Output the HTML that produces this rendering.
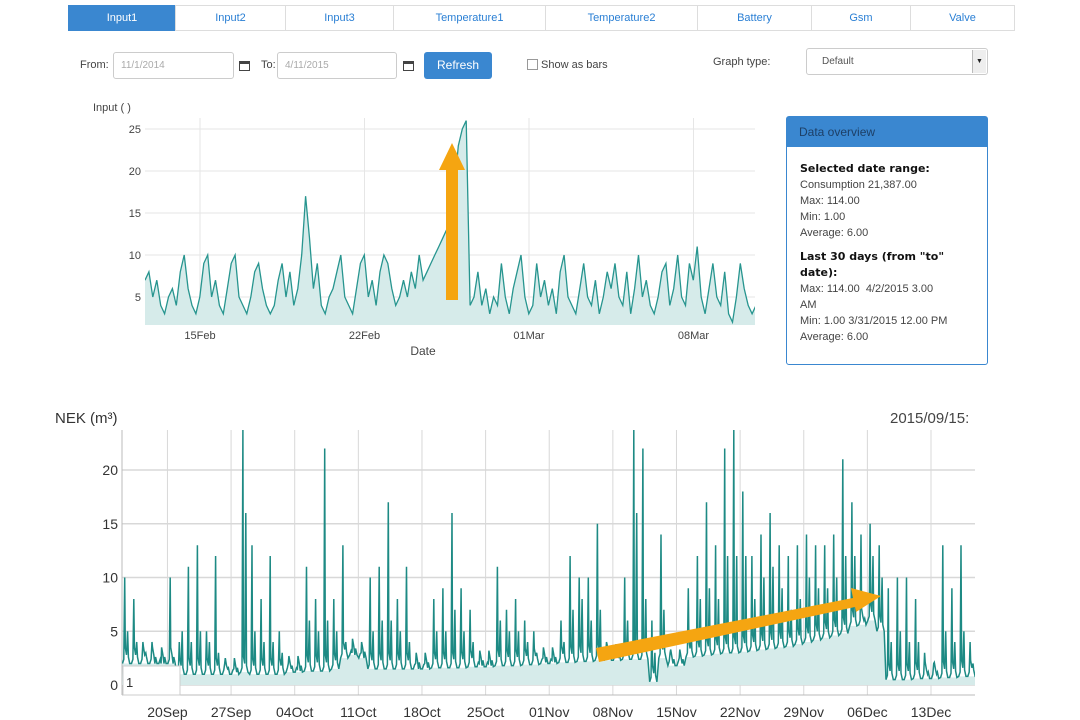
<!DOCTYPE html>
<html><head><meta charset="utf-8">
<style>
body{margin:0;width:1080px;height:720px;background:#fff;font-family:"Liberation Sans",sans-serif;overflow:hidden;position:relative}
.abs{position:absolute}
.tab{position:absolute;top:5px;height:26px;border:1px solid #ddd;box-sizing:border-box;color:#2a7fd4;font-size:11px;text-align:center;line-height:25px;background:#fff}
.inp{position:absolute;height:27px;border:1px solid #ccc;border-radius:3px;box-sizing:border-box;font-size:10px;color:#aaa;padding-left:7px;line-height:25px}
.lbl{position:absolute;font-size:11px;color:#444}
.cal{position:absolute;width:11px;height:10px;border:1px solid #444;border-top-width:3px;box-sizing:border-box}
</style></head><body>
<div class="tab" style="left:68px;width:108px;background:#3a87d0;color:#fff;border-color:#3a87d0">Input1</div>
<div class="tab" style="left:175px;width:111px">Input2</div>
<div class="tab" style="left:285px;width:109px">Input3</div>
<div class="tab" style="left:393px;width:153px">Temperature1</div>
<div class="tab" style="left:545px;width:153px">Temperature2</div>
<div class="tab" style="left:697px;width:115px">Battery</div>
<div class="tab" style="left:811px;width:100px">Gsm</div>
<div class="tab" style="left:910px;width:105px">Valve</div>

<div class="lbl" style="left:80px;top:59px">From:</div>
<div class="inp" style="left:113px;top:52px;width:121px">11/1/2014</div>
<div class="cal" style="left:239px;top:61px"></div>
<div class="lbl" style="left:261px;top:59px">To:</div>
<div class="inp" style="left:277px;top:52px;width:120px">4/11/2015</div>
<div class="cal" style="left:403px;top:61px"></div>
<div class="abs" style="left:424px;top:52px;width:68px;height:27px;background:#3a87d0;border-radius:3px;color:#fff;font-size:12px;text-align:center;line-height:27px">Refresh</div>
<div class="abs" style="left:527px;top:59px;width:9px;height:9px;border:1px solid #999"></div>
<div class="lbl" style="left:541px;top:59px">Show as bars</div>
<div class="lbl" style="left:713px;top:56px">Graph type:</div>
<div class="inp" style="left:806px;top:48px;width:182px;color:#555;padding-left:15px">Default<div class="abs" style="right:1px;top:1px;width:13px;height:23px;background:#eee;border-left:1px solid #bbb;font-size:7px;color:#222;text-align:center;line-height:23px">▼</div></div>

<div class="abs" style="left:786px;top:116px;width:202px;height:249px;border:1px solid #3a87d0;border-radius:3px;box-sizing:border-box">
 <div style="background:#3a87d0;height:30px;color:#1d3f66;font-size:12px;line-height:30px;padding-left:12px">Data overview</div>
 <div style="padding:14px 0 0 13px;font-size:11px;color:#444;line-height:16px">
  <b style="color:#111;font-family:'DejaVu Sans',sans-serif;font-size:11px">Selected date range:</b><br>Consumption 21,387.00<br>Max: 114.00<br>Min: 1.00<br>Average: 6.00<br><div style="height:8px"></div>
  <b style="color:#111;font-family:'DejaVu Sans',sans-serif;font-size:11px">Last 30 days (from "to"<br>date):</b><br>Max: 114.00 &nbsp;4/2/2015 3.00<br>AM<br>Min: 1.00 3/31/2015 12.00 PM<br>Average: 6.00
 </div>
</div>

<svg id="top" class="abs" style="left:0;top:0" width="1080" height="720"></svg>

<script>
// ---------- top chart data ----------
const topStartDay = 12.66; // Feb day of first sample
const topPerDay = 6;
const topValues = [7,8,5,7,4,3, 5,6,4,8,10,6, 4,3,5,9,10,5, 7,4,3,6,9,10, 5,4,3,5,8,9, 6,4,3,4,7,9,
 5,8,4,6,10,17, 12,6,9,4,3,5, 6,8,10,5,4,3, 6,9,10,5,7,4, 8,10,9,6,4,5, 7,5,8,6,10,7,
 8,9,10,11,12,13, 13,18,23,25,26,4, 5,8,4,6,3,5, 4,9,5,3,6,8, 10,5,3,4,9,5, 7,4,6,3,8,10,
 5,4,3,6,9,5, 4,7,3,5,8,6, 9,5,4,8,3,6, 10,5,7,4,3,5, 8,9,4,6,10,5, 4,9,7,11,5,3, 6,9,5,4,8,3, 2,5,9,6,4,3, 4];
const topYTicks = [5,10,15,20,25];
const topXTickDays = [15,22,29,36];
const topXTickLabels = ["15Feb","22Feb","01Mar","08Mar"];

// ---------- bottom chart data ----------
const botStartLabel = "15Sep";
const botBase = [2,2,2,2,2,2, 1,1,1,1,1,1,1,1.2,1,1,1,1,1.2,1.2,1.3,1.3,1.3,1.5,2.5,2.8,2.5,1.5,1.5,1.5,1.5,1.5,1.5,1.5,1.6,1.6,1.6,1.6,1.7,1.7,1.7,1.8,1.8,1.8,1.9,1.9,2,2,2.1,2.1,2.2,2.2,2.3,2.3,2.3,2.4,2.4,2.4,0.3,2.5,1.8,1.8,2.6,2.7,2.8,2.9,3,3,3.1,3.2,3.3,3.4,3.5,3.6,3.8,4,4.2,4.4,4.6,4.8,5.5,5.6,6,5,0.5,0.5,0.5,0.6,0.6,0.6,0.7,0.7,0.8,0.8,0.8];
const botPeakA = [10,8,4,4,2,10, 4,11,13,5,12,2,1.5,24,13,8,12,5,2,1.5,11,8,22,8,13,3,3,10,11,17,8,11,2,2,8,9,16,9,7,2,2,11,7,8,6,5,2.5,2.3,6,12,10,10,15,4,3,10,24,22,6,14,3,2.5,9,12,17,13,22,24,18,12,14,16,13,12,13,14,13,13,14,21,17,14,15,13,9,10,10,8,3,2,13,9,13,4,3];
const botPeakB = [5,4,3,2,2,2, 5,4,5,4,3,1.5,1.2,16,5,4,4,3,1.5,1.3,6,5,6,5,4,2.8,2.5,5,6,6,5,4,1.5,1.6,5,5,7,5,4,1.8,1.8,6,5,5,4,3,2.1,2.1,4,7,8,6,7,3,2.5,6,16,8,3,7,2,2,5,8,9,8,12,12,12,8,10,11,9,7,8,10,9,9,10,12,12,6,12,10,4,5,4,4,1,1,5,4,5,2,1];
const botYTicks = [0,5,10,15,20];
const botXTickDays = [5,12,19,26,33,40,47,54,61,68,75,82,89];
const botXTickLabels = ["20Sep","27Sep","04Oct","11Oct","18Oct","25Oct","01Nov","08Nov","15Nov","22Nov","29Nov","06Dec","13Dec"];

const NS="http://www.w3.org/2000/svg";
const svg=document.getElementById('top');
function mk(tag,attrs,parent){const e=document.createElementNS(NS,tag);for(const k in attrs)e.setAttribute(k,attrs[k]);(parent||svg).appendChild(e);return e;}

// top axes
const tL=145,tR=755,tT=118,tB=325;
const tx=d=>tL+(d-topStartDay)*23.5;
const ty=v=>339-v*8.4;
const gTop=mk('g',{});


const clipT=mk('clipPath',{id:'ct'});mk('rect',{x:tL,y:tT,width:tR-tL,height:tB-tT},clipT);
topYTicks.forEach(v=>{
 const l=mk('line',{x1:tL,x2:tR,y1:ty(v),y2:ty(v),stroke:'#e6e6e6'},gTop);
 
 
 const t=mk('text',{x:tL-4,y:ty(v)+4,'font-size':11,fill:'#444','text-anchor':'end'},gTop);t.textContent=v;
 
 
});
topXTickDays.forEach((d,i)=>{
 const l=mk('line',{x1:tx(d),x2:tx(d),y1:tT,y2:tB,stroke:'#e6e6e6'},gTop);
 
 
 const t=mk('text',{x:tx(d),y:339,'font-size':11,fill:'#444','text-anchor':'middle'},gTop);t.textContent=topXTickLabels[i];
 
 
});
let tp=topValues.map((v,i)=>[tx(topStartDay+i/topPerDay),ty(v)]);
const tLine='M'+tp.map(p=>p[0].toFixed(1)+','+p[1].toFixed(1)).join('L');
const ta=mk('path',{d:tLine+'L'+tp[tp.length-1][0]+','+tB+'L'+tL+','+tB+'Z',fill:'#d6ebea','clip-path':'url(#ct)'},gTop);


const tl=mk('path',{d:tLine,fill:'none',stroke:'#27958f','stroke-width':1.3,'clip-path':'url(#ct)'},gTop);


const tyt=mk('text',{x:93,y:111,'font-size':11,fill:'#444'},gTop);tyt.textContent='Input ( )';


const txt=mk('text',{x:423,y:355,'font-size':12,fill:'#444','text-anchor':'middle'},gTop);txt.textContent='Date';


const ar1=mk('path',{d:'M446,300L446,170L439,170L452,143L465,170L458,170L458,300Z',fill:'#f5a511'},gTop);



// bottom
const bL=122,bR=975,bT=430,bB=695;
const bx=d=>bL+d*9.09;
const by=v=>685-v*10.75;
const gB=mk('g',{});


const clipB=mk('clipPath',{id:'cb'});mk('rect',{x:bL,y:bT,width:bR-bL,height:bB-bT},clipB);
botYTicks.forEach(v=>{
 const l=mk('line',{x1:bL,x2:bR,y1:by(v),y2:by(v),stroke:'#d8d8d8','stroke-width':1.5},gB);
 
 
 const t=mk('text',{x:bL-4,y:by(v)+5,'font-size':14,fill:'#333','text-anchor':'end'},gB);t.textContent=v;
 
 
});
botXTickDays.forEach((d,i)=>{
 const l=mk('line',{x1:bx(d),x2:bx(d),y1:bT,y2:bB,stroke:'#d8d8d8'},gB);
 
 
 const t=mk('text',{x:bx(d),y:717,'font-size':14,fill:'#333','text-anchor':'middle'},gB);t.textContent=botXTickLabels[i];
 
 
});
mk('line',{x1:bL,x2:bR,y1:bB,y2:bB,stroke:'#bbb'},gB);
mk('line',{x1:bL,x2:bL,y1:bT,y2:bB,stroke:'#bbb'},gB);
let bp=[],fp=[];
botBase.forEach((b,d)=>{
 const a=botPeakA[d],c=botPeakB[d];
 bp.push([bx(d+0.05),by(b)],[bx(d+0.2),by(b+0.4)],[bx(d+0.3),by(a)],[bx(d+0.36),by(b+1.5)],[bx(d+0.5),by(b+0.8)],[bx(d+0.62),by(c)],[bx(d+0.7),by(b+0.6)],[bx(d+0.85),by(b)]);
 fp.push([bx(d+0.05),by(b)],[bx(d+0.85),by(b)]);
});
const bLine='M'+bp.map(p=>p[0].toFixed(1)+','+Math.max(p[1],bT).toFixed(1)).join('L');
const fLine='M'+fp.map(p=>p[0].toFixed(1)+','+p[1].toFixed(1)).join('L');
const ba=mk('path',{d:fLine+'L'+fp[fp.length-1][0]+','+by(0)+'L'+bL+','+by(0)+'Z',fill:'#d6ebea','clip-path':'url(#cb)'},gB);


const bl=mk('path',{d:bLine,fill:'none',stroke:'#1d8a84','stroke-width':1.5,'clip-path':'url(#cb)'},gB);


const box=mk('rect',{x:bL+1,y:666,width:57,height:29,fill:'#fff',stroke:'#ccc'},gB);


const bt=mk('text',{x:126,y:687,'font-size':13,fill:'#333'},gB);bt.textContent='1';
const byt=mk('text',{x:55,y:423,'font-size':15,fill:'#333'},gB);byt.textContent='NEK (m³)';


const dt=mk('text',{x:890,y:423,'font-size':15,fill:'#444'},gB);dt.textContent='2015/09/15:';


const ar2=mk('path',{d:'M596,648L853,598L851,588L881,596L856,612L855,607L599,662Z',fill:'#f5a511'},gB);


</script>
</body></html>
